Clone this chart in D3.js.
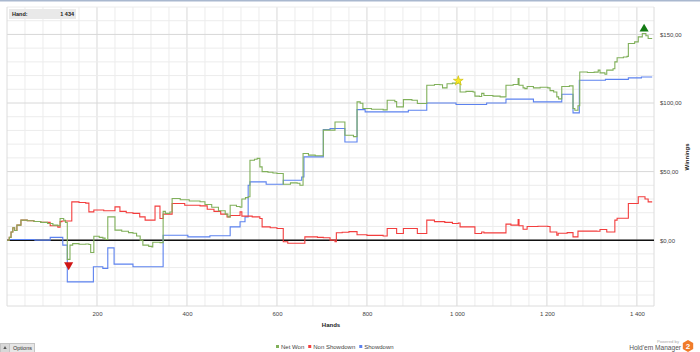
<!DOCTYPE html>
<html>
<head>
<meta charset="utf-8">
<script src="https://cdn.jsdelivr.net/npm/d3@7"></script>
<style>
  body { margin: 0; background: #fff; }
  svg { display: block; font-family: "Liberation Sans", Arial, sans-serif; }
</style>
</head>
<body>
<div id="chart"></div>
<script>
// hands played, cumulative winnings ($)
const netWon = [
  [0,0],[5,2],[9,6],[13,9],[17,7],[22,11],[31,14.6],[45,14.2],[60,13.6],[75,13],[90,12.2],[102,11],[113,10.5],
  [118,15.8],[126,14.5],[130,13],[134,-14],[140,-3.6],[146,-2.5],[160,-3],[175,-2.8],[182,-3.2],[186,-9],
  [193,2.9],[205,2],[213,1.5],[218,0.5],[224,17],[238,17],[240,7.3],[255,6.5],[270,5.5],[280,5],[288,3],
  [296,0],[302,-3.6],[315,-4.5],[322,-4.9],[324,-1.5],[340,-1.8],[347,21],[352,19.5],[362,20.5],[367,30.4],
  [385,29.5],[405,28.6],[429,28],[440,26],[455,24],[470,21.5],[485,19],[491,17],[496,25.5],[510,24.5],
  [518,24],[522,30],[530,31],[536,31.6],[540,58.3],[550,59],[556,59.6],[562,53.4],[567,50],[580,49.5],
  [591,49],[600,48.6],[614,40.8],[630,41.8],[645,41.5],[651,40],[658,63.2],[670,62],[685,61.5],[703,80.2],
  [729,86.2],[751,76.5],[770,75.5],[778,100.8],[785,99.8],[791,96],[810,95.5],[836,95],[845,102],[862,101],
  [866,97.2],[881,102.5],[900,102],[912,99.6],[933,113],[950,113.5],[962,113.3],[968,111],[978,114],
  [990,114.5],[1003,115.4],[1007,108],[1020,108.5],[1036,108],[1040,105],[1050,104.8],[1055,107],
  [1060,105.5],[1080,105],[1096,104.5],[1109,113],[1125,113.5],[1136,117.8],[1138,113],[1147,111],
  [1151,110.5],[1156,112],[1170,111],[1185,111.5],[1202,111],[1207,109],[1215,108],[1222,104.5],
  [1226,103],[1233,112],[1250,112.5],[1258,96],[1262,94.7],[1269,98],[1273,122.6],[1290,122.2],
  [1305,122.5],[1314,124],[1318,122],[1329,121],[1333,124],[1347,125],[1351,130],[1356,133],[1370,133.5],
  [1378,134],[1381,143.4],[1395,144.6],[1403,148.2],[1412,150.7],[1420,149],[1425,147],[1434,147]
];

const nonShowdown = [
  [0,0],[5,2],[9,6],[13,9],[17,7],[22,11],[31,14.6],[45,14.2],[60,13.6],[75,13],[96,10.5],[113,9.5],
  [118,13.5],[122,14],[144,27.9],[160,27.5],[175,27],[182,20.6],[193,22],[215,21.5],[240,24.3],[251,21],
  [265,20],[280,19.5],[295,17],[307,14.6],[329,24.8],[340,15.8],[347,19],[367,26.7],[395,25.5],[429,25],
  [445,22.5],[460,21],[475,19],[489,17],[496,18],[518,20.6],[522,17.5],[545,17],[562,15.8],[567,9.7],
  [585,9],[600,8.5],[614,-1.2],[624,-2.2],[662,2.4],[690,2],[703,1.8],[718,0],[729,-1.2],[732,5.4],
  [745,5.8],[760,6.2],[778,4],[800,3.5],[836,3],[845,8.5],[866,4.9],[881,8.5],[912,4.9],[933,14.6],
  [950,13.5],[973,13],[990,12.2],[1003,12.5],[1007,9.7],[1040,4.9],[1055,6],[1060,5.3],[1109,11.7],
  [1120,11],[1136,15],[1138,10.5],[1147,8],[1156,10],[1180,10.2],[1202,10],[1207,6],[1222,3.6],[1225,5],
  [1245,5.5],[1258,2.4],[1269,6.6],[1311,6.5],[1318,7.8],[1333,6],[1351,14.6],[1356,16],[1381,26.7],
  [1403,31.6],[1418,30],[1425,27.9],[1434,27.9]
];

const showdown = [
  [0,0.5],[62,0],[96,2],[124,-3.6],[134,-30.4],[192,-19.4],[213,-20.6],[224,-5.6],[238,-17.5],[280,-19.4],
  [347,3.6],[402,2.4],[451,3.2],[496,9.7],[518,13.4],[529,17],[536,40],[540,42.5],[576,40.8],[614,43.7],
  [655,46.1],[660,60.7],[703,80.7],[718,81.4],[751,71.6],[778,95.2],[796,93.5],[892,94.7],[933,100],
  [998,98.9],[1066,100],[1109,102.8],[1170,100.8],[1233,106.4],[1258,92.8],[1272,116.6],[1330,117.2],
  [1381,118.3],[1410,119],[1434,119]
];

const seriesNames = ["Net Won", "Non Showdown", "Showdown"];
const seriesColors = ["#80b05a", "#f33d3d", "#5c82ef"];
const xLabelTicks = [200, 400, 600, 800, 1000, 1200, 1400];
const yLabelTicks = [0, 50, 100, 150];
const starHand = 1003;
const totalHands = 1434;

const W = 700, H = 352;
const plot = { left: 7, right: 654, top: 7, bottom: 306 };

const locale = d3.formatLocale({ decimal: ",", thousands: "\u00a0", grouping: [3], currency: ["$", ""] });
const fmtMoney = locale.format("$,.2f");
const fmtInt = locale.format(",");

const svg = d3.select("#chart").append("svg")
  .attr("width", W)
  .attr("height", H);

const x = d3.scaleLinear().domain([0, 1438]).range([plot.left, plot.right]);
const y = d3.scaleLinear().domain([-48, 170]).range([plot.bottom, plot.top]);

// window top border
svg.append("rect")
  .attr("x", 0).attr("y", 0)
  .attr("width", W).attr("height", 1.5)
  .attr("fill", "#a9b8cf");

// grid
const grid = svg.append("g");
grid.selectAll(".vg")
  .data(d3.range(40, 1438, 40))
  .join("line")
    .attr("x1", d => x(d)).attr("x2", d => x(d))
    .attr("y1", plot.top).attr("y2", plot.bottom)
    .attr("stroke", d => d % 200 === 0 ? "#d8d8d8" : "#ececec")
    .attr("stroke-width", 1);
grid.selectAll(".hg")
  .data(d3.range(-40, 171, 10))
  .join("line")
    .attr("x1", plot.left).attr("x2", plot.right)
    .attr("y1", d => y(d)).attr("y2", d => y(d))
    .attr("stroke", d => d % 50 === 0 ? "#d8d8d8" : "#ececec")
    .attr("stroke-width", 1);

// plot border
svg.append("path")
  .attr("d", `M${plot.left},${plot.top}V${plot.bottom}H${plot.right}V${plot.top}`)
  .attr("fill", "none")
  .attr("stroke", "#dcdcdc");

// axes
const xAxis = svg.append("g")
  .attr("transform", `translate(0,${plot.bottom})`)
  .call(d3.axisBottom(x).tickValues(xLabelTicks).tickSize(0).tickPadding(6).tickFormat(fmtInt));
const yAxis = svg.append("g")
  .attr("transform", `translate(${plot.right},0)`)
  .call(d3.axisRight(y).tickValues(yLabelTicks).tickSize(0).tickPadding(6).tickFormat(fmtMoney));
[xAxis, yAxis].forEach(g => {
  g.select(".domain").remove();
  g.selectAll("text")
    .attr("font-family", "Liberation Sans, Arial, sans-serif")
    .attr("font-size", 6)
    .attr("fill", "#444");
});

svg.append("text")
  .attr("x", 331).attr("y", 327)
  .attr("text-anchor", "middle")
  .attr("font-size", 6).attr("font-weight", "bold")
  .attr("fill", "#222")
  .text("Hands");

svg.append("text")
  .attr("transform", "translate(689,157) rotate(-90)")
  .attr("text-anchor", "middle")
  .attr("font-size", 6).attr("font-weight", "bold")
  .attr("fill", "#222")
  .text("Winnings");

// zero line
svg.append("line")
  .attr("x1", plot.left).attr("x2", plot.right)
  .attr("y1", y(0)).attr("y2", y(0))
  .attr("stroke", "#111")
  .attr("stroke-width", 1.5);

// lines
const line = d3.line()
  .x(d => x(d[0]))
  .y(d => y(d[1]))
  .curve(d3.curveStepAfter);

const allSeries = [netWon, nonShowdown, showdown];
[2, 1, 0].forEach(i => {
  svg.append("path")
    .datum(allSeries[i])
    .attr("fill", "none")
    .attr("stroke", seriesColors[i])
    .attr("stroke-width", 1.1)
    .attr("d", line);
});

// markers: peak, low, star
const peakIdx = d3.maxIndex(netWon, d => d[1]);
const lowIdx = d3.minIndex(netWon, d => d[1]);
const peak = netWon[peakIdx], low = netWon[lowIdx];
const peakMid = (peak[0] + netWon[peakIdx + 1][0]) / 2;
const lowMid = (low[0] + netWon[lowIdx + 1][0]) / 2;

svg.append("path")
  .attr("d", d3.symbol(d3.symbolTriangle, 36)())
  .attr("transform", `translate(${x(peakMid)},${y(peak[1]) - 4.5})`)
  .attr("fill", "#137a13");

svg.append("path")
  .attr("d", d3.symbol(d3.symbolTriangle, 36)())
  .attr("transform", `translate(${x(lowMid)},${y(low[1]) + 5.5}) rotate(180)`)
  .attr("fill", "#d01515");

const starPt = netWon.find(d => d[0] === starHand);
svg.append("path")
  .attr("d", d3.symbol(d3.symbolStar, 30)())
  .attr("transform", `translate(${x(starPt[0])},${y(starPt[1]) - 1})`)
  .attr("fill", "#f7e825")
  .attr("stroke", "#c9b800")
  .attr("stroke-width", 0.6);

// hand counter box
const handBox = svg.append("g");
handBox.append("rect")
  .attr("x", 9).attr("y", 9)
  .attr("width", 67).attr("height", 10)
  .attr("fill", "#e9e9e9");
handBox.append("text")
  .attr("x", 12).attr("y", 16.2)
  .attr("font-size", 5.5).attr("font-weight", "bold")
  .attr("fill", "#222")
  .text("Hand:");
handBox.append("text")
  .attr("x", 74).attr("y", 16.2)
  .attr("text-anchor", "end")
  .attr("font-size", 5.5).attr("font-weight", "bold")
  .attr("fill", "#222")
  .text(fmtInt(totalHands));

// legend
const legend = svg.append("g").attr("transform", "translate(276,348.5)");
let lx = 0;
seriesNames.forEach((name, i) => {
  legend.append("rect")
    .attr("x", lx).attr("y", -3.5)
    .attr("width", 3).attr("height", 3)
    .attr("fill", seriesColors[i]);
  const t = legend.append("text")
    .attr("x", lx + 5).attr("y", 0)
    .attr("font-size", 6)
    .attr("fill", "#444")
    .text(name);
  lx += t.node().getComputedTextLength() + 9;
});

// options button
const opt = svg.append("g");
opt.append("rect")
  .attr("x", 0.5).attr("y", 343.5)
  .attr("width", 34).attr("height", 9)
  .attr("fill", "#e6e6e6")
  .attr("stroke", "#c4c4c4");
opt.append("rect")
  .attr("x", 0.5).attr("y", 343.5)
  .attr("width", 9).attr("height", 9)
  .attr("fill", "#d8d8d8")
  .attr("stroke", "#c4c4c4");
opt.append("path")
  .attr("d", d3.symbol(d3.symbolTriangle, 5)())
  .attr("transform", "translate(5,348)")
  .attr("fill", "#555");
opt.append("text")
  .attr("x", 13).attr("y", 350)
  .attr("font-size", 5.5)
  .attr("fill", "#333")
  .text("Options");

// powered by logo
const logo = svg.append("g");
logo.append("text")
  .attr("x", 679).attr("y", 342.5)
  .attr("text-anchor", "end")
  .attr("font-size", 4.2)
  .attr("fill", "#aaa")
  .text("Powered by");
logo.append("text")
  .attr("x", 681).attr("y", 349.5)
  .attr("text-anchor", "end")
  .attr("font-size", 6.6)
  .attr("fill", "#555")
  .text("Hold'em Manager");
const hex = d3.range(6).map(k => {
  const a = Math.PI / 3 * k + Math.PI / 6;
  return [688 + 6 * Math.cos(a), 346 + 6 * Math.sin(a)];
});
logo.append("path")
  .attr("d", d3.line()(hex) + "Z")
  .attr("fill", "#f07c2a");
logo.append("text")
  .attr("x", 688).attr("y", 348.8)
  .attr("text-anchor", "middle")
  .attr("font-size", 8).attr("font-weight", "bold")
  .attr("fill", "#fff")
  .text("2");
</script>
</body>
</html>
